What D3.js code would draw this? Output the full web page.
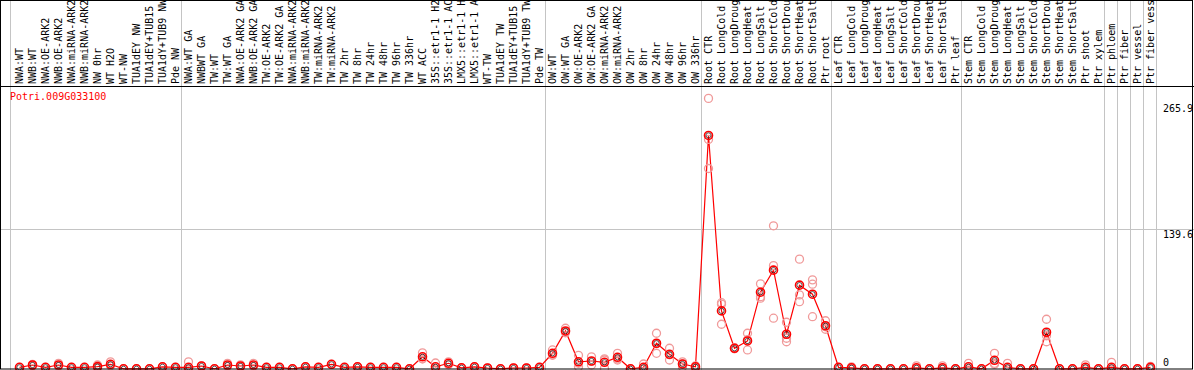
<!DOCTYPE html>
<html>
<head>
<meta charset="utf-8">
<script src="https://cdn.jsdelivr.net/npm/d3@7"></script>
<style>
  body { margin: 0; background: #fff; }
  svg { display: block; font-family: "DejaVu Sans Mono", monospace; font-size: 10px; }
</style>
</head>
<body>
<svg id="chart" width="1194" height="370"></svg>
<script>
var geneName = "Potri.009G033100";

var samples = [
  "NWA:WT", "NWB:WT", "NWA:OE-ARK2", "NWB:OE-ARK2", "NWA:miRNA-ARK2", "NWB:miRNA-ARK2",
  "NW 0hr", "WT H2O", "WT-NW", "TUA1dEY NW", "TUA1dEY+TUB15 NW", "TUA1dY+TUB9 NW", "Pde NW",
  "NWA:WT GA", "NWBWT GA", "TW:WT", "TW:WT GA", "NWA:OE-ARK2 GA", "NWB:OE-ARK2 GA",
  "TW:OE-ARK2", "TW:OE-ARK2 GA", "NWA:miRNA-ARK2 GA", "NWB:miRNA-ARK2 GA", "TW:miRNA-ARK2",
  "TW:miRNA-ARK2 GA", "TW 2hr", "TW 8hr", "TW 24hr", "TW 48hr", "TW 96hr", "TW 336hr",
  "WT ACC", "35S::etr1-1 H2O", "35S::etr1-1 ACC", "LMX5::etr1-1 H2O", "LMX5::etr1-1 ACC",
  "WT-TW", "TUA1dEY TW", "TUA1dEY+TUB15 TW", "TUA1dY+TUB9 TW", "Pde TW",
  "OW:WT", "OW:WT GA", "OW:OE-ARK2", "OW:OE-ARK2 GA", "OW:miRNA-ARK2", "OW:miRNA-ARK2 GA",
  "OW 2hr", "OW 8hr", "OW 24hr", "OW 48hr", "OW 96hr", "OW 336hr",
  "Root CTR", "Root LongCold", "Root LongDrought", "Root LongHeat", "Root LongSalt",
  "Root ShortCold", "Root ShortDrought", "Root ShortHeat", "Root ShortSalt", "Ptr root",
  "Leaf CTR", "Leaf LongCold", "Leaf LongDrought", "Leaf LongHeat", "Leaf LongSalt",
  "Leaf ShortCold", "Leaf ShortDrought", "Leaf ShortHeat", "Leaf ShortSalt", "Ptr leaf",
  "Stem CTR", "Stem LongCold", "Stem LongDrought", "Stem LongHeat", "Stem LongSalt",
  "Stem ShortCold", "Stem ShortDrought", "Stem ShortHeat", "Stem ShortSalt", "Ptr shoot",
  "Ptr xylem", "Ptr phloem", "Ptr fiber", "Ptr vessel", "Ptr fiber vessel"
];

// mean expression per sample
var means = [
  1.5, 3.8, 1.5, 3.8, 1.5, 1.5, 2.2, 4.5, 0, 0, 0, 2, 1.5,
  1.5, 2.8, 0, 3.8, 2.8, 3.8, 1.5, 1.5, 0, 2, 1.5, 4.5, 1.5, 2, 1.5, 1.5, 1.5, 0,
  12, 2, 5.5, 1, 2, 0.8, 0, 0.8, 0.8, 1.5,
  15.5, 37.8, 7, 7.8, 6.5, 11.5, 0, 1.5, 25.5, 14.5, 4.8, 2,
  233, 57.8, 20.5, 27.8, 76.5, 98.5, 34.5, 83.5, 74.5, 43,
  1.5, 1, 0, 0, 0, 0, 1, 0, 1, 0,
  2, 0, 8.5, 1.5, 0, 0, 36.5, 0, 0, 1.5,
  0, 1.5, 0, 0, 1.5
];

// individual replicates per sample
var reps = [
  [1.5], [4.5, 3], [1.5], [5.5, 2.5], [1.5], [1.5], [3.8, 1], [7, 3], [0], [0], [0], [2], [1.5],
  [7, 0], [2.8], [0], [5.5, 2.5], [4, 2], [5.5, 2.5], [1.5], [1.5], [0], [2], [1.5], [4.5], [1.5], [2], [1.5], [1.5], [1.5], [0],
  [16, 10, 10], [5.8, 0], [7, 4], [1], [2], [0.8], [0], [0.8], [0.8], [1.5],
  [18.8, 14, 13.5], [40.5, 36, 37], [13.5, 5.5, 2], [12, 3.8, 7.5], [8.8, 0.5, 10], [15.5, 8.8, 10], [0], [4.8, 0, 0],
  [35.5, 15.5, 25], [20.5, 8.8, 14], [7, 2, 5], [1, 3],
  [270, 229, 200], [66, 64.5, 44.5], [20, 21, 20.5], [35.5, 18.8, 29], [84.8, 72, 70.5],
  [142.8, 103, 50.5], [46.5, 30.5, 27], [109.5, 73.8, 67], [88.8, 84.5, 52], [48, 39.5, 42],
  [1.5], [2, 0], [0], [0], [0], [0], [3, 0], [0], [3, 0], [0],
  [5.5, 0], [0], [15.5, 4.5, 5.5], [5.5, 0], [0], [0], [49.5, 27, 33], [0], [0], [4, 0],
  [0], [6.5, 0], [0], [0], [2.5, 1]
];

// index of the last sample in each group, a separator is drawn after it
var groupEnds = [12, 40, 52, 62, 72, 83, 84, 85, 86, 87];
var yTicks = [0, 139.6, 265.9];

var width = 1194, height = 370;
var headerY = 86.5;

var svg = d3.select("#chart");

var x = d3.scaleLinear().domain([0, samples.length - 1]).range([19.5, 1150.5]);
var y = d3.scaleLinear().domain([0, 265.9]).range([368.8, 102.5]);

svg.append("rect").attr("width", width).attr("height", height).attr("fill", "#fff");

// group separators
var sepX = [10.5].concat(groupEnds.map(function(i) { return Math.round(x(i) + 5) + 0.5; }));
svg.selectAll("line.sep").data(sepX).enter().append("line")
  .attr("class", "sep")
  .attr("x1", function(d) { return d; }).attr("x2", function(d) { return d; })
  .attr("y1", 0).attr("y2", height)
  .attr("stroke", "#c4c4c4").attr("stroke-width", 1);

// middle gridline
svg.selectAll("line.grid").data(yTicks.slice(1, 2)).enter().append("line")
  .attr("class", "grid")
  .attr("x1", 0).attr("x2", width)
  .attr("y1", function(d) { return Math.round(y(d)) + 0.5; })
  .attr("y2", function(d) { return Math.round(y(d)) + 0.5; })
  .attr("stroke", "#c4c4c4");

// sample labels (rotated)
svg.selectAll("text.sample").data(samples).enter().append("text")
  .attr("class", "sample")
  .attr("transform", function(d, i) { return "translate(" + (x(i) + 3.5) + "," + 84 + ") rotate(-90)"; })
  .attr("fill", "#000")
  .text(function(d) { return d; });

// header line
svg.append("line")
  .attr("x1", 0).attr("x2", width).attr("y1", headerY).attr("y2", headerY)
  .attr("stroke", "#000");

svg.append("text")
  .attr("x", 10).attr("y", 100)
  .attr("fill", "#ff0000")
  .text(geneName);

// mean line
var line = d3.line()
  .x(function(d, i) { return x(i); })
  .y(function(d) { return y(d); });

svg.append("path")
  .datum(means)
  .attr("d", line)
  .attr("fill", "none")
  .attr("stroke", "#ff0000")
  .attr("stroke-width", 1.2);

// replicates
var repPoints = [];
reps.forEach(function(r, i) {
  r.forEach(function(v) { repPoints.push({i: i, v: v}); });
});
svg.selectAll("circle.rep").data(repPoints).enter().append("circle")
  .attr("class", "rep")
  .attr("cx", function(d) { return x(d.i); })
  .attr("cy", function(d) { return y(d.v); })
  .attr("r", 4)
  .attr("fill", "none")
  .attr("stroke", "#f09a9a")
  .attr("stroke-width", 1.3);

// means
var meanG = svg.selectAll("g.mean").data(means).enter().append("g")
  .attr("class", "mean")
  .attr("transform", function(d, i) { return "translate(" + x(i) + "," + y(d) + ")"; });
meanG.append("circle")
  .attr("r", 4)
  .attr("fill", "none")
  .attr("stroke", "#ff0000")
  .attr("stroke-width", 1.6);
meanG.append("circle")
  .attr("r", 2.6)
  .attr("fill", "none")
  .attr("stroke", "#000")
  .attr("stroke-width", 0.8)
  .attr("stroke-opacity", 0.8);

// y tick labels on the right
svg.selectAll("text.ytick").data(yTicks).enter().append("text")
  .attr("class", "ytick")
  .attr("x", 1163)
  .attr("y", function(d) { return d === 0 ? y(d) - 3 : y(d) + 9; })
  .attr("fill", "#000")
  .text(function(d) { return d; });

// outer border
svg.append("rect")
  .attr("x", 0.5).attr("y", 0.5)
  .attr("width", 1192).attr("height", 368.5)
  .attr("fill", "none")
  .attr("stroke", "#000");
</script>
</body>
</html>
